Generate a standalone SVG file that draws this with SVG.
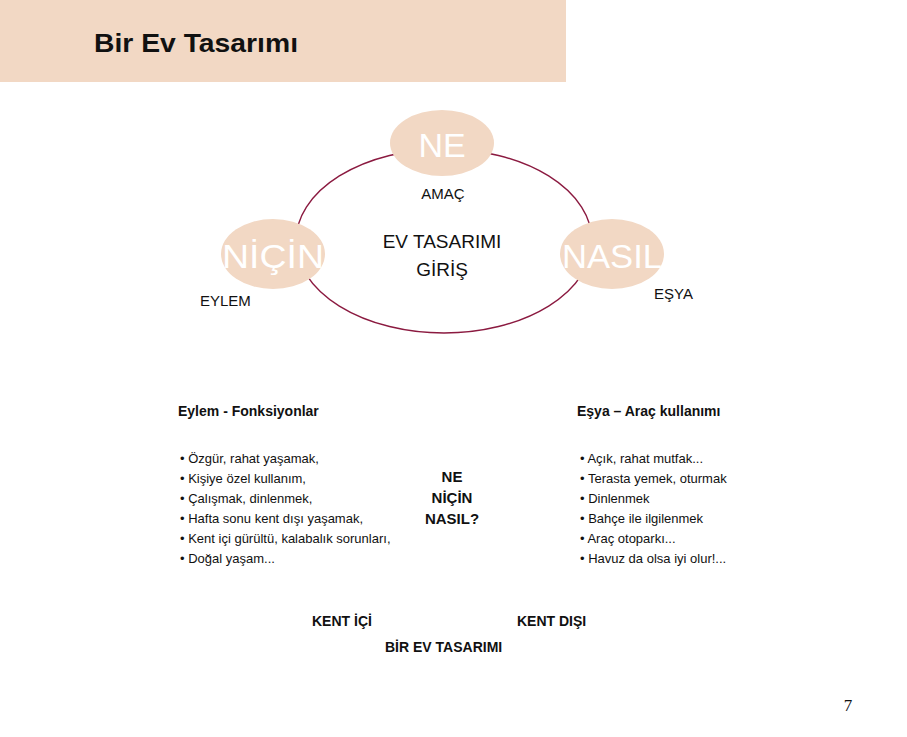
<svg xmlns="http://www.w3.org/2000/svg" width="907" height="737" viewBox="0 0 907 737">
<style>
text{font-family:"Liberation Sans",Arial,sans-serif;fill:#111}
.node{fill:#f2d8c4}
.big{font-size:34px;fill:#fff}
.lab{font-size:15px}
.b{font-weight:bold;font-size:14px}
.li{font-size:13px}
.mid{font-size:19px}
</style>
<rect width="907" height="737" fill="#fff"/>
<rect x="0" y="0" width="566" height="82" fill="#f2d8c4"/>
<text x="94" y="52" style="font-size:26px;font-weight:bold" textLength="204" lengthAdjust="spacingAndGlyphs">Bir Ev Tasarımı</text>
<g id="connectors"><ellipse cx="444" cy="241" rx="148" ry="92" fill="none" stroke="#8b1a40" stroke-width="1.4"/></g>
<g id="ne"><ellipse class="node" cx="442" cy="143" rx="52" ry="33"/><text class="big" x="442" y="157" text-anchor="middle">NE</text></g>
<g id="nicin"><ellipse class="node" cx="273" cy="254" rx="52" ry="35"/><text class="big" x="273" y="268" text-anchor="middle" textLength="102" lengthAdjust="spacingAndGlyphs">NİÇİN</text></g>
<g id="nasil"><ellipse class="node" cx="612" cy="254" rx="52" ry="35"/><text class="big" x="612" y="268" text-anchor="middle" textLength="100" lengthAdjust="spacingAndGlyphs">NASIL</text></g>
<text class="lab" x="443" y="199" text-anchor="middle">AMAÇ</text>
<text class="lab" x="200" y="306">EYLEM</text>
<text class="lab" x="654" y="299">EŞYA</text>
<text class="mid" x="442" y="248" text-anchor="middle">EV TASARIMI</text>
<text class="mid" x="442" y="276" text-anchor="middle">GİRİŞ</text>
<text class="b" x="178" y="416">Eylem - Fonksiyonlar</text>
<text class="b" x="577" y="416">Eşya – Araç kullanımı</text>
<g class="li">
<text class="li" x="180" y="463">• Özgür, rahat yaşamak,</text>
<text class="li" x="180" y="483">• Kişiye özel kullanım,</text>
<text class="li" x="180" y="503">• Çalışmak, dinlenmek,</text>
<text class="li" x="180" y="523">• Hafta sonu kent dışı yaşamak,</text>
<text class="li" x="180" y="543">• Kent içi gürültü, kalabalık sorunları,</text>
<text class="li" x="180" y="563">• Doğal yaşam...</text>
<text class="li" x="580" y="463">• Açık, rahat mutfak...</text>
<text class="li" x="580" y="483">• Terasta yemek, oturmak</text>
<text class="li" x="580" y="503">• Dinlenmek</text>
<text class="li" x="580" y="523">• Bahçe ile ilgilenmek</text>
<text class="li" x="580" y="543">• Araç otoparkı...</text>
<text class="li" x="580" y="563">• Havuz da olsa iyi olur!...</text>
</g>
<text class="b" x="452" y="482" text-anchor="middle" style="font-size:15px">NE</text>
<text class="b" x="452" y="503" text-anchor="middle" style="font-size:15px">NİÇİN</text>
<text class="b" x="452" y="524" text-anchor="middle" style="font-size:15px">NASIL?</text>
<text class="b" x="312" y="626">KENT İÇİ</text>
<text class="b" x="517" y="626">KENT DIŞI</text>
<text class="b" x="385" y="652">BİR EV TASARIMI</text>
<text x="848" y="711" text-anchor="middle" style="font-family:'Liberation Serif',serif;font-size:17px">7</text>
</svg>
